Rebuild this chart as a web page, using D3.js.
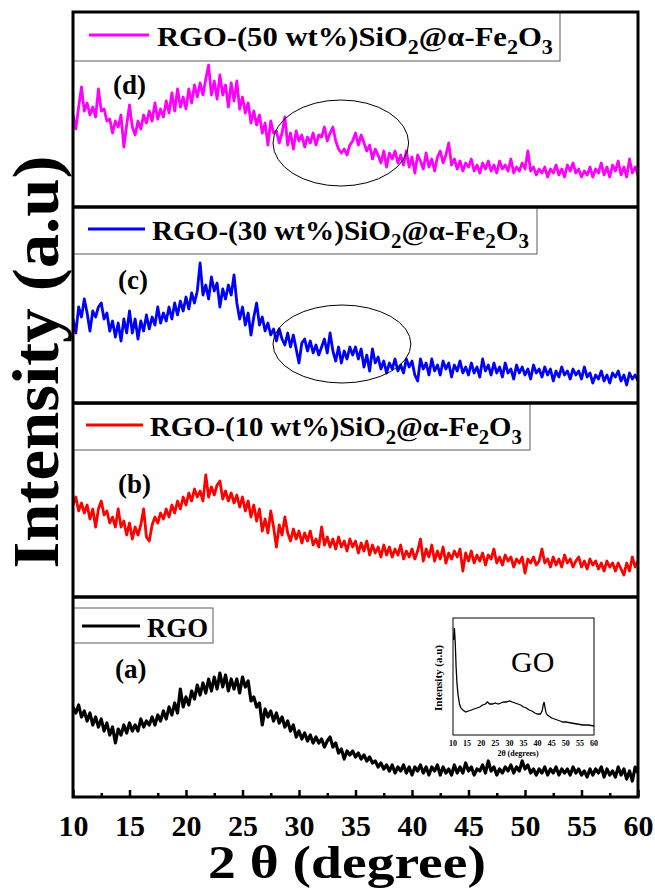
<!DOCTYPE html>
<html>
<head>
<meta charset="utf-8">
<script src="https://cdn.jsdelivr.net/npm/d3@7"></script>
<style>
  body { margin: 0; background: #fff; }
  svg { display: block; }
</style>
</head>
<body>
<svg id="chart" width="655" height="892"></svg>
<script>
// XRD patterns, 2theta 10..60 sampled every 0.25 deg (intensity in a.u.)
const rgo50 = [
  92, 78, 100, 120, 96, 104, 92, 100, 90, 118, 96, 98, 86, 88, 74, 86,
  80, 92, 60, 82, 102, 80, 72, 86, 78, 92, 84, 96, 86, 104, 88, 98,
  90, 106, 94, 114, 96, 118, 100, 110, 98, 118, 104, 122, 110, 124, 112, 128,
  142, 112, 126, 108, 132, 112, 122, 100, 124, 106, 126, 98, 110, 94, 104, 84,
  96, 82, 92, 74, 84, 62, 86, 74, 76, 64, 74, 90, 62, 74, 58, 76,
  66, 72, 60, 70, 64, 74, 62, 72, 70, 80, 66, 74, 80, 66, 58, 54,
  58, 52, 62, 66, 74, 62, 72, 64, 56, 62, 48, 58, 52, 44, 56, 40,
  54, 48, 56, 44, 52, 42, 56, 40, 50, 34, 52, 46, 38, 54, 40, 48,
  36, 50, 56, 44, 52, 64, 42, 48, 38, 46, 36, 44, 40, 48, 36, 42,
  34, 44, 38, 46, 36, 42, 34, 46, 38, 42, 36, 48, 34, 40, 36, 44,
  38, 56, 36, 40, 32, 38, 34, 40, 30, 38, 34, 42, 32, 38, 30, 42,
  36, 44, 34, 38, 30, 36, 32, 40, 30, 38, 34, 44, 32, 40, 30, 42,
  36, 46, 32, 40, 30, 48, 34, 40, 32
];
const rgo30 = [
  84, 70, 96, 86, 104, 90, 72, 92, 86, 96, 100, 84, 90, 72, 82, 66,
  80, 62, 84, 70, 92, 70, 84, 64, 82, 72, 88, 74, 86, 78, 96, 80,
  90, 82, 96, 84, 100, 88, 102, 92, 106, 94, 110, 100, 112, 140, 108, 118,
  104, 126, 112, 120, 96, 114, 104, 118, 108, 128, 100, 84, 96, 78, 90, 68,
  86, 100, 78, 86, 72, 80, 68, 74, 62, 74, 64, 58, 70, 56, 68, 54,
  40, 60, 64, 52, 62, 50, 58, 48, 56, 64, 50, 70, 52, 42, 56, 40,
  52, 44, 56, 48, 56, 44, 54, 36, 48, 32, 54, 40, 46, 34, 42, 30,
  40, 34, 44, 32, 38, 30, 44, 36, 42, 28, 22, 44, 34, 40, 28, 44,
  32, 38, 28, 42, 34, 40, 26, 38, 32, 42, 30, 36, 28, 40, 30, 36,
  26, 44, 32, 38, 28, 40, 30, 36, 26, 40, 30, 34, 24, 38, 30, 36,
  28, 34, 24, 38, 30, 34, 26, 36, 28, 34, 22, 32, 26, 36, 28, 32,
  24, 34, 28, 32, 24, 36, 26, 30, 20, 28, 24, 32, 22, 28, 20, 30,
  26, 32, 22, 28, 18, 30, 24, 28, 22
];
const rgo10 = [
  92, 100, 86, 94, 84, 92, 78, 88, 70, 88, 96, 82, 86, 74, 80, 70,
  88, 70, 76, 62, 74, 58, 70, 62, 72, 88, 60, 56, 72, 80, 74, 84,
  78, 88, 80, 92, 84, 96, 88, 100, 92, 104, 96, 108, 100, 106, 96, 122,
  100, 110, 102, 112, 116, 98, 106, 96, 104, 94, 102, 90, 100, 86, 96, 80,
  92, 76, 88, 66, 78, 64, 86, 70, 50, 72, 62, 80, 64, 56, 68, 58,
  66, 54, 64, 56, 66, 52, 58, 50, 70, 52, 60, 50, 58, 48, 60, 50,
  56, 46, 58, 50, 56, 44, 54, 46, 56, 42, 52, 44, 50, 40, 52, 42,
  50, 40, 48, 42, 52, 38, 46, 40, 48, 38, 46, 58, 36, 48, 40, 52,
  36, 46, 38, 50, 34, 44, 38, 46, 40, 48, 26, 44, 36, 46, 34, 42,
  36, 44, 32, 42, 38, 48, 34, 40, 32, 42, 36, 40, 30, 38, 34, 40,
  24, 38, 34, 40, 32, 36, 48, 34, 38, 30, 40, 32, 38, 30, 42, 34,
  38, 30, 36, 40, 30, 36, 28, 38, 32, 36, 28, 34, 26, 36, 30, 34,
  26, 34, 28, 22, 34, 26, 40, 30, 36
];
const rgo = [
  90, 84, 92, 80, 86, 76, 84, 72, 80, 70, 78, 66, 74, 62, 70, 54,
  68, 62, 72, 64, 74, 66, 72, 66, 78, 70, 76, 72, 80, 72, 82, 76,
  86, 78, 90, 82, 94, 84, 108, 90, 100, 92, 106, 98, 112, 102, 114, 104,
  118, 106, 120, 108, 124, 110, 122, 106, 118, 108, 118, 104, 120, 110, 116, 96,
  100, 90, 94, 72, 88, 80, 86, 76, 84, 74, 80, 70, 76, 66, 72, 60,
  66, 58, 64, 56, 62, 54, 60, 54, 58, 50, 56, 60, 50, 54, 44, 48,
  38, 46, 42, 46, 40, 44, 38, 42, 36, 40, 34, 36, 30, 34, 28, 32,
  26, 32, 24, 30, 26, 32, 24, 30, 22, 30, 26, 32, 24, 30, 22, 30,
  26, 32, 22, 30, 24, 28, 22, 32, 24, 30, 24, 34, 26, 30, 22, 28,
  26, 32, 24, 36, 26, 30, 22, 28, 24, 30, 26, 32, 24, 30, 26, 36,
  28, 32, 24, 28, 22, 28, 24, 30, 22, 28, 24, 30, 22, 28, 24, 28,
  22, 30, 24, 28, 22, 26, 20, 28, 22, 28, 24, 30, 20, 28, 22, 26,
  20, 30, 22, 28, 18, 26, 16, 30, 24
];

// GO inset pattern
const goTheta = [10.2, 10.5, 10.8, 11.1, 11.4, 11.8, 12.3, 12.8, 13.5, 14.5, 15.5, 16.5, 17.5, 18.5, 19.5,
  20.5, 21.5, 22.2, 23, 24, 25, 26, 27, 28, 29, 30, 31, 32, 33, 34, 35, 36, 37, 38, 39, 40,
  41, 41.6, 42, 42.3, 42.6, 43, 43.5, 44, 45, 46, 47, 48, 49, 50, 52, 54, 56, 58, 60];
const goIntensity = [95, 107, 92, 68, 52, 40, 31, 27, 25, 23, 24, 25, 26, 27, 28,
  30, 31, 33, 31, 31, 32, 31, 32, 33, 33, 34, 33, 32, 31, 30, 28, 27, 25, 24, 22, 21,
  21, 24, 30, 33, 28, 22, 20, 19, 17, 16, 15, 14, 13, 13, 12, 11, 10, 10, 9];

const seriesColors = ["#ff00ff", "#0000ff", "#ff0000", "#000000"];
const panelLetters = ["(d)", "(c)", "(b)", "(a)"];
const legendNames = [
  [["RGO-(50 wt%)SiO"], ["2", 1], ["@α-Fe"], ["2", 1], ["O"], ["3", 1]],
  [["RGO-(30 wt%)SiO"], ["2", 1], ["@α-Fe"], ["2", 1], ["O"], ["3", 1]],
  [["RGO-(10 wt%)SiO"], ["2", 1], ["@α-Fe"], ["2", 1], ["O"], ["3", 1]],
  [["RGO"]]
];
const majorTicks = [10, 15, 20, 25, 30, 35, 40, 45, 50, 55, 60];
const minorTicks = [12.5, 17.5, 22.5, 27.5, 32.5, 37.5, 42.5, 47.5, 52.5, 57.5];
const insetTicks = [10, 15, 20, 25, 30, 35, 40, 45, 50, 55, 60];

const panelSeries = [rgo50, rgo30, rgo10, rgo];

const FONT = "Liberation Serif";

// layout
const left = 73, right = 638;
const panelTops = [12, 207, 403, 597];
const bottom = 797;
const legendLayout = [
  { box: [73, 12, 560, 61], line: [89, 149, 35], tx: 157, ty: 46, fs: 28, tw: 396 },
  { box: [73, 207, 537, 254], line: [88, 145, 229], tx: 152, ty: 240, fs: 28, tw: 377 },
  { box: [73, 404, 530, 450], line: [86, 143, 425], tx: 150, ty: 436, fs: 28, tw: 372 },
  { box: [73, 608, 213, 643], line: [82, 140, 626], tx: 147, ty: 637, fs: 27, tw: 61 }
];
const letterPos = [[113, 94], [118, 289], [118, 493], [115, 678]];
// circled regions: [theta centre, intensity centre, theta half-width, intensity half-height]
const circles = [[33.7, 64, 6.0, 43], [33.8, 59, 6.1, 39], null, null];

const svg = d3.select("#chart");
const x = d3.scaleLinear().domain([10, 60]).range([left, right]);

const defs = svg.append("defs");

panelSeries.forEach((vals, i) => {
  const top = panelTops[i];
  const bot = i < 3 ? panelTops[i + 1] : bottom;
  const y = d3.scaleLinear().domain([0, bot - top]).range([bot, top]);
  const step = 50 / (vals.length - 1);

  defs.append("clipPath").attr("id", "clip" + i)
    .append("rect").attr("x", left).attr("y", top).attr("width", right - left).attr("height", bot - top);

  const line = d3.line()
    .x((d, k) => x(10 + k * step))
    .y(d => y(d));

  svg.append("path")
    .datum(vals)
    .attr("clip-path", "url(#clip" + i + ")")
    .attr("d", line)
    .attr("fill", "none")
    .attr("stroke", seriesColors[i])
    .attr("stroke-width", i === 3 ? 3.2 : 2.8)
    .attr("stroke-linejoin", "round");

  if (circles[i]) {
    const c = circles[i];
    svg.append("ellipse")
      .attr("cx", x(c[0]))
      .attr("cy", y(c[1]))
      .attr("rx", x(10 + c[2]) - x(10))
      .attr("ry", c[3])
      .attr("fill", "none")
      .attr("stroke", "#000")
      .attr("stroke-width", 1);
  }

  // legend
  const L = legendLayout[i];
  svg.append("rect")
    .attr("x", L.box[0]).attr("y", L.box[1])
    .attr("width", L.box[2] - L.box[0]).attr("height", L.box[3] - L.box[1])
    .attr("fill", "#fff").attr("stroke", "#777").attr("stroke-width", 1.2);
  svg.append("line")
    .attr("x1", L.line[0]).attr("x2", L.line[1]).attr("y1", L.line[2]).attr("y2", L.line[2])
    .attr("stroke", seriesColors[i]).attr("stroke-width", 3);
  const g = svg.append("g").attr("transform", `translate(${L.tx},${L.ty})`);
  const t = g.append("text").style("font-family", FONT)
    .attr("font-size", L.fs).attr("font-weight", "bold").attr("fill", "#000");
  let shifted = false;
  legendNames[i].forEach(p => {
    const ts = t.append("tspan").text(p[0]);
    if (p[1]) {
      ts.attr("font-size", L.fs * 0.72).attr("dy", L.fs * 0.3);
      shifted = true;
    } else if (shifted) {
      ts.attr("dy", -L.fs * 0.3);
      shifted = false;
    }
  });
  const w = t.node().getBBox().width;
  g.attr("transform", `translate(${L.tx},${L.ty}) scale(${L.tw / w},1)`);

  svg.append("text").style("font-family", FONT)
    .attr("x", letterPos[i][0]).attr("y", letterPos[i][1])
    .attr("font-size", 27).attr("font-weight", "bold")
    .text(panelLetters[i]);
});

// inset (GO)
const ix = d3.scaleLinear().domain([10, 60]).range([453, 594]);
const iy = d3.scaleLinear().domain([0, 117]).range([735, 618]);
svg.append("rect").attr("x", 453).attr("y", 618).attr("width", 141).attr("height", 117)
  .attr("fill", "#fff").attr("stroke", "#000").attr("stroke-width", 1);
svg.append("path")
  .datum(goTheta.map((d, k) => [d, goIntensity[k]]))
  .attr("d", d3.line().x(d => ix(d[0])).y(d => iy(d[1])))
  .attr("fill", "none").attr("stroke", "#000").attr("stroke-width", 1.3);
svg.append("g").selectAll("text").data(insetTicks).join("text")
  .style("font-family", FONT)
  .attr("x", d => ix(d)).attr("y", 746)
  .attr("text-anchor", "middle").attr("font-size", 8).attr("font-weight", "bold")
  .text(d => d);
svg.append("text").style("font-family", FONT).attr("x", 518).attr("y", 756).attr("text-anchor", "middle")
  .attr("font-size", 8).attr("font-weight", "bold").text("2θ (degrees)");
svg.append("text").style("font-family", FONT).attr("transform", "translate(442,678) rotate(-90)")
  .attr("text-anchor", "middle").attr("font-size", 11).attr("font-weight", "bold")
  .text("Intensity (a.u)");
svg.append("text").style("font-family", FONT).attr("x", 511).attr("y", 672)
  .attr("font-size", 30).text("GO");

// frame and panel dividers
svg.append("rect").attr("x", left).attr("y", panelTops[0])
  .attr("width", right - left).attr("height", bottom - panelTops[0])
  .attr("fill", "none").attr("stroke", "#000").attr("stroke-width", 3);
panelTops.slice(1).forEach(t => {
  svg.append("line").attr("x1", left).attr("x2", right).attr("y1", t).attr("y2", t)
    .attr("stroke", "#000").attr("stroke-width", 3.5);
});

// bottom axis, ticks pointing inward
const axisMajor = svg.append("g").attr("transform", `translate(0,${bottom})`)
  .call(d3.axisBottom(x).tickValues(majorTicks).tickSize(-7).tickFormat(d3.format("d")));
axisMajor.select(".domain").remove();
axisMajor.selectAll("line").attr("stroke-width", 2.5);
axisMajor.selectAll("text")
  .attr("y", 39).attr("dy", null)
  .attr("font-size", 30).attr("font-weight", "bold").attr("fill", "#000")
  .style("font-family", FONT);
const axisMinor = svg.append("g").attr("transform", `translate(0,${bottom})`)
  .call(d3.axisBottom(x).tickValues(minorTicks).tickSize(-4).tickFormat(""));
axisMinor.select(".domain").remove();
axisMinor.selectAll("line").attr("stroke-width", 2.5);

// axis titles
const xt = svg.append("text").style("font-family", FONT).attr("font-size", 47).attr("font-weight", "bold")
  .attr("text-anchor", "middle").text("2 θ (degree)");
const xw = xt.node().getBBox().width;
xt.attr("transform", `translate(347,878) scale(${278 / xw},1)`);

const yt = svg.append("text").style("font-family", FONT).attr("font-size", 66).attr("font-weight", "bold")
  .attr("text-anchor", "middle").text("Intensity (a.u)");
const yw = yt.node().getBBox().width;
yt.attr("transform", `translate(58,362) rotate(-90) scale(${413 / yw},1)`);
</script>
</body>
</html>
